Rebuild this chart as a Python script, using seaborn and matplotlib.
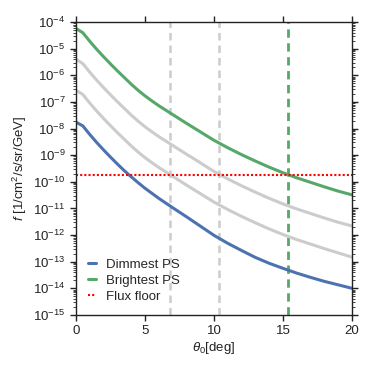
import numpy as np
import pandas as pd
import matplotlib
matplotlib.use("Agg")
import matplotlib.pyplot as plt
import seaborn as sns
from matplotlib.ticker import LogLocator, FixedLocator, NullFormatter

# ---- data (log10 of flux) ----
theta = [0, 0.5, 1, 1.5, 2, 2.5, 3, 3.5, 4, 4.5, 5, 5.5, 6, 7, 8, 9, 10,
         11, 12, 13, 14, 15, 16, 17, 18, 19, 20]
log_dimmest = [-7.76, -7.90, -8.22, -8.52, -8.80, -9.07, -9.33, -9.58, -9.81,
               -10.03, -10.24, -10.43, -10.62, -10.97, -11.31, -11.66, -12.01,
               -12.31, -12.58, -12.84, -13.06, -13.25, -13.43, -13.59, -13.74,
               -13.87, -14.00]
log_brightest = [-4.24, -4.40, -4.72, -5.02, -5.30, -5.57, -5.83, -6.08, -6.33,
                 -6.56, -6.77, -6.96, -7.14, -7.47, -7.80, -8.12, -8.44, -8.72,
                 -8.98, -9.22, -9.45, -9.66, -9.85, -10.02, -10.19, -10.35,
                 -10.49]
log_mid_upper = [-5.40, -5.56, -5.88, -6.18, -6.46, -6.73, -6.99, -7.24, -7.49,
                 -7.72, -7.93, -8.12, -8.30, -8.63, -8.96, -9.28, -9.61, -9.89,
                 -10.15, -10.39, -10.62, -10.83, -11.02, -11.19, -11.36, -11.52,
                 -11.66]
log_mid_lower = [-6.56, -6.72, -7.04, -7.34, -7.62, -7.89, -8.15, -8.40, -8.65,
                 -8.88, -9.09, -9.28, -9.46, -9.79, -10.12, -10.44, -10.76,
                 -11.04, -11.30, -11.54, -11.77, -11.98, -12.17, -12.34, -12.51,
                 -12.67, -12.83]
flux_floor = 1.87e-10
vlines_gray = [6.81, 10.36]
vline_green = 15.36
xticks = [0, 5, 10, 15, 20]
ydecades = list(range(-15, -3))

blue = "#4C72B0"
green = "#55A868"
gray = "#cccccc"

sns.set_style("ticks")
plt.rcParams["font.family"] = ["Liberation Sans", "DejaVu Sans"]
plt.rcParams["mathtext.fontset"] = "custom"
plt.rcParams["mathtext.rm"] = "Liberation Sans"
plt.rcParams["mathtext.it"] = "Liberation Sans:italic"

fig = plt.figure(figsize=(3.74, 3.74), dpi=100)
ax = fig.add_axes([0.203, 0.158, 0.738, 0.783])

def frame(vals):
    return pd.DataFrame({"theta": theta, "flux": 10.0 ** np.array(vals)})

sns.lineplot(data=frame(log_mid_upper), x="theta", y="flux", ax=ax,
             color=gray, lw=2.2, label="_nolegend_")
sns.lineplot(data=frame(log_mid_lower), x="theta", y="flux", ax=ax,
             color=gray, lw=2.2, label="_nolegend_")
sns.lineplot(data=frame(log_dimmest), x="theta", y="flux", ax=ax,
             color=blue, lw=2.2, label="Dimmest PS")
sns.lineplot(data=frame(log_brightest), x="theta", y="flux", ax=ax,
             color=green, lw=2.2, label="Brightest PS")
ax.axhline(flux_floor, color="red", ls=(0, (1, 1)), lw=1.5, label="Flux floor")
for xv in vlines_gray:
    ax.axvline(xv, color=gray, ls=(0, (3, 2)), lw=1.8, zorder=0.5)
ax.axvline(vline_green, color=green, ls=(0, (3, 2)), lw=2, zorder=0.5)

ax.set_yscale("log")
ax.set_xlim(0, 20)
ax.set_ylim(1e-15, 1e-4)
ax.xaxis.set_major_locator(FixedLocator(xticks))
ax.yaxis.set_major_locator(FixedLocator([10.0 ** d for d in ydecades]))
ax.yaxis.set_minor_locator(LogLocator(base=10, subs=np.arange(2, 10), numticks=30))
ax.yaxis.set_minor_formatter(NullFormatter())

ax.tick_params(axis="both", which="major", direction="out", length=4,
               width=1, labelsize=9.5, top=True, right=True, color="#222222",
               labelcolor="#222222")
ax.tick_params(axis="y", which="minor", direction="out", length=2,
               width=0.6, right=True, left=True)
for s in ax.spines.values():
    s.set_color("#222222")
    s.set_linewidth(1)

ax.set_xlabel(r"$\theta_{0}$[deg]", fontsize=9.5, labelpad=2, color="#222222")
ax.set_ylabel(r"$f$ [1/cm$^2$/s/sr/GeV]", fontsize=9.5, labelpad=3, color="#222222")

ax.legend(loc="lower left", frameon=False, fontsize=9.5, handlelength=0.6,
          handletextpad=0.8, labelspacing=0.3, borderaxespad=0.5)

fig.savefig("out.png", dpi=100)
